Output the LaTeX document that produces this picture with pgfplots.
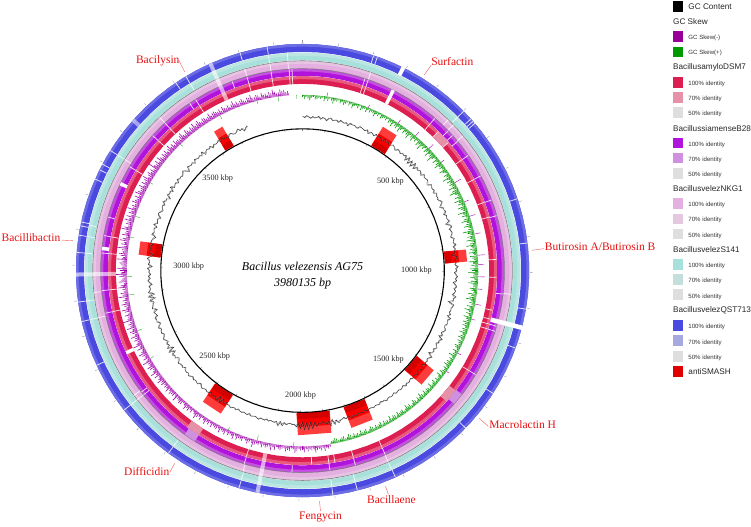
\documentclass[border=0pt]{standalone}
\usepackage{pgfplots}
\usepackage{pgfplotstable}
\usepackage{fontspec}
\pgfplotsset{compat=1.18,table/x index=0,table/y index=0}
\setmainfont{Liberation Serif}
\newfontfamily\arial{Liberation Sans}
\definecolor{rd}{HTML}{DC1E50}\definecolor{rdl}{HTML}{E85A80}\definecolor{rdp}{HTML}{E691A8}
\definecolor{pu}{HTML}{B014DC}\definecolor{pul}{HTML}{C550E0}\definecolor{pup}{HTML}{D090E0}
\definecolor{pk}{HTML}{E4B0E0}\definecolor{pkl}{HTML}{E8C4E4}\definecolor{pkp}{HTML}{E4C8E0}
\definecolor{te}{HTML}{A8E0DC}\definecolor{tel}{HTML}{BCE6E2}\definecolor{tep}{HTML}{C4DEDC}
\definecolor{bl}{HTML}{4A4AE0}\definecolor{bll}{HTML}{6C6CE4}\definecolor{blp}{HTML}{A8A8E0}
\definecolor{gy}{HTML}{DEDEDE}\definecolor{sm}{HTML}{E00000}\definecolor{lab}{HTML}{E81010}
\definecolor{gm}{HTML}{990099}\definecolor{gp}{HTML}{009900}
\definecolor{sm1}{HTML}{FF3C3C}\definecolor{sm2}{HTML}{F80000}\definecolor{sm3}{HTML}{D40000}
\pgfplotstableread{a
0
4
8
12
16
20
24
28
32
36
40
44
48
52
56
60
64
68
72
76
80
84
88
92
96
100
104
108
112
116
120
124
128
132
136
140
144
148
152
156
160
164
168
172
176
180
184
188
192
196
200
204
208
212
216
220
224
228
232
236
240
244
248
252
256
260
264
268
272
276
280
284
288
292
296
300
304
308
312
316
320
324
328
332
336
340
344
348
352
356
360
364
}\ringt
\pgfplotstableread{a
0
9.05
18.09
27.14
36.18
45.23
54.27
63.32
72.36
81.41
90.45
99.5
108.54
117.59
126.63
135.68
144.72
153.77
162.81
171.86
180.9
189.95
198.99
208.04
217.08
226.13
235.17
244.22
253.26
262.31
271.35
280.4
289.44
298.49
307.53
316.58
325.62
334.67
343.71
352.76
}\tickt
\pgfplotstableread{a
351
344
329
326
302
298
296.4
293.8
282.4
281.4
279
274.6
262
257
245.3
232
216.3
196.3
172.3
166
155.8
134
122.8
110
99.8
83
71.5
49.5
48.8
48
45.3
19.3
18.3
}\blG
\pgfplotstableread{a
351
356
329
302
282
279
274.6
262
257
232
216.3
196.3
172.3
166
155.9
45.3
}\teG
\pgfplotstableread{a
351
356
344
317
302
264
257
232
233.5
196.5
155.9
96.5
46
44
50
19
}\pkG
\pgfplotstableread{a
351
356.2
357
344
339.6
328
326
317
312
301
285.4
280
275
264.3
257.8
233
232
196.8
183
172.2
164.8
155.8
121
106
107.5
96.7
74.2
69.5
62
55.2
46.2
48
50.2
41
19
18
}\puG
\pgfplotstableread{a
351
356.2
357
344
328
317
312
301
280
275
264.3
257.8
196.8
177.3
172.2
170.4
164.8
155.8
121
104.5
106
107.5
101.8
92
86.7
74
69.4
62
55.2
48.7
44.3
41
19
18
}\rdG
\pgfplotstableread{a
295.5
276.3
26.7
}\puT
\pgfplotstableread{a
245
26.7
}\rdT
\pgfplotstableread{a
26.4
}\blT
\pgfplotstableread{a
104.6
}\bandT
\pgfplotstableread{a
336
269
191.5
}\paleT
\pgfplotstableread{a
311.6
}\paleB
\pgfplotstableread{a
214.3
130.2
46.5
}\patchR
\pgfplotstableread{a
214
129.6
}\patchP
\pgfplotstableread{p q
29 35
82.5 87
127 134
154.5 163
169.5 182
209.5 217.5
275.4 280.4
327.4 331
}\smboxes
\pgfplotstableread{a d
8 4
22 3
33 4
40 5
46 6
52 4
60 7
67 5
72 6
78 6
85 7
88 6
92 7
96 5
101 6
106 4
118 4
125 3
}\purpleOut
\pgfplotstableread{a d
183 4
195 5
205 3
240 4
250 5
262 6
268 5
281 4
288 5
300 3
316 3
332 4
345 3
352 5
358 4
}\greenIn
\pgfplotstableread{d
3
5
2
4
6
3
2
5
4
3
4
2
6
3
5
2
4
7
3
4
2
5
3
6
4
2
5
3
7
4
3
5
2
6
4
3
6
2
5
3
4
7
3
5
2
6
4
3
5
2
6
4
8
3
5
7
4
9
5
3
7
4
6
9
3
5
8
4
6
3
8
5
10
4
6
3
7
5
9
4
6
11
5
3
8
4
7
10
5
6
4
9
6
3
7
5
11
4
8
5
7
5
10
4
8
12
6
4
9
5
11
6
8
4
10
7
5
12
6
9
4
8
11
5
7
10
4
6
13
8
5
9
6
11
4
7
12
5
8
6
10
4
9
7
5
11
6
8
4
10
7
12
5
6
9
4
8
11
6
5
9
7
4
10
6
8
12
5
7
4
9
6
11
5
8
4
10
7
5
9
6
8
4
7
5
9
4
6
8
3
7
5
4
8
6
3
7
4
5
9
3
6
4
7
5
8
3
6
4
5
7
3
8
5
4
6
3
7
5
4
8
3
5
6
4
7
3
5
8
4
6
3
5
7
4
3
6
5
8
4
3
6
5
4
7
3
5
6
4
8
3
5
4
6
3
7
5
4
6
3
5
7
4
3
6
5
4
7
3
5
4
6
3
5
7
4
3
6
5
4
3
5
6
4
3
}\greenT
\pgfplotstableread{d
3
5
4
7
3
6
4
5
8
3
5
4
6
3
7
4
5
3
6
8
4
3
6
5
7
3
4
6
5
3
7
4
8
3
5
6
4
7
3
5
4
6
9
3
5
7
4
3
6
5
4
7
3
8
5
4
6
3
7
5
4
8
3
6
5
4
7
3
6
4
8
5
3
7
4
6
9
5
3
6
4
7
5
8
4
3
6
7
5
4
9
3
6
5
7
4
8
5
6
4
7
5
9
6
4
8
5
10
6
4
7
9
5
6
11
4
8
5
7
10
6
4
9
5
12
7
5
8
6
10
4
7
9
5
11
6
8
5
13
7
6
9
4
8
11
5
7
10
6
8
5
12
7
9
5
6
11
8
4
10
7
5
9
13
6
8
11
5
7
9
6
12
5
8
10
6
7
14
5
9
6
11
8
5
10
7
6
12
9
5
8
7
11
6
10
5
9
7
12
6
8
5
10
7
6
9
5
11
8
6
7
10
5
9
6
8
11
5
7
9
6
8
5
14
7
6
9
5
10
7
5
8
6
9
5
7
10
6
8
5
9
6
7
5
8
10
6
5
9
7
5
8
6
10
5
7
9
6
5
8
7
5
6
9
5
7
8
6
5
7
4
8
6
5
7
4
6
9
5
7
4
6
8
5
4
7
6
9
4
5
7
6
4
8
5
6
4
7
5
9
6
4
5
8
6
7
4
5
}\purpleT
\pgfplotstableread{d
1
-1
2
0
-2
1
-1
0
2
-2
1
0
-3
1
2
-1
0
1
-2
2
0
-1
1
-3
2
0
1
-1
-2
2
1
0
-1
2
-3
1
0
-2
2
-1
1
0
-3
2
-1
1
-2
0
2
-1
-3
1
0
-2
1
-1
2
-5
3
-6
2
-6
3
-5
1
-2
1
0
-3
2
-1
0
1
-2
-4
2
0
-1
1
-3
2
-1
0
-2
1
3
-1
-4
1
0
2
-3
1
-1
0
2
-5
1
3
-2
0
1
-1
-3
2
0
-1
3
-2
1
-1
0
-6
2
1
-1
0
-2
3
-1
1
-3
0
2
-1
1
-4
0
2
-2
1
0
-3
3
-1
0
-7
2
1
-1
0
-2
1
-3
3
-1
0
1
-2
-1
2
0
-3
1
-4
3
-1
1
-3
0
2
-2
1
-1
-5
3
0
-2
1
-1
2
-3
0
1
-1
-2
2
0
-1
1
-2
0
1
-1
2
-2
0
1
-1
0
1
-2
0
1
-1
0
2
-1
0
-2
1
0
-1
1
0
-1
0
1
-2
1
0
-1
0
1
-1
2
0
-1
1
-2
0
1
4
-1
5
-3
6
-1
2
0
-2
1
0
4
-2
7
-3
8
-2
8
-3
6
-1
4
0
1
-1
0
2
-1
4
-2
5
-1
1
0
-1
1
-2
1
0
-1
2
0
-1
0
1
-2
1
0
-1
1
0
-2
1
-1
0
2
-1
0
-2
1
-5
4
-5
3
0
-1
1
-2
0
1
-1
0
2
-1
-3
1
0
-1
1
-2
0
2
-1
1
0
-3
1
-1
0
2
-2
-4
1
-1
2
-5
4
-6
3
-2
1
-3
0
2
-1
-3
1
0
-2
2
-1
-4
1
0
2
-3
-1
1
-5
2
0
-1
-3
3
-6
4
-6
3
0
-1
1
-4
0
2
-2
1
-3
0
-1
2
-5
1
-1
0
3
-2
-7
1
0
-1
2
-3
1
0
-2
-5
2
-1
0
1
-3
3
-2
-1
0
-4
1
2
-1
-3
0
1
-2
3
-1
0
-5
2
-1
1
-3
4
-2
0
1
-3
2
-1
0
-2
1
3
-1
-5
2
0
-1
1
-3
2
0
-1
1
-2
3
-4
0
1
-1
2
-3
1
-1
0
2
-2
3
-1
0
-3
1
2
-1
-2
0
3
-1
1
-4
0
2
}\gct
\newcommand{\rng}[3]{\addplot[forget plot,draw=#3,line width=#2] table[x expr={303+#1*sin(\thisrow{a})},y expr={271-#1*cos(\thisrow{a})}] {\ringt};}
\newcommand{\gaps}[6][1]{\addplot[forget plot,draw=#6,draw opacity=#1,line width=#5,quiver={u={(#4-#3)*sin(\thisrow{a})},v={-(#4-#3)*cos(\thisrow{a})}}] table[x expr={303+#3*sin(\thisrow{a})},y expr={271-#3*cos(\thisrow{a})}] {#2};}
\newcommand{\bx}[3]{\addplot[forget plot,draw=#3,line width=#2,quiver={u={#1*(sin(\thisrow{q})-sin(\thisrow{p}))},v={-#1*(cos(\thisrow{q})-cos(\thisrow{p}))}}] table[x expr={303+#1*sin(\thisrow{p})},y expr={271-#1*cos(\thisrow{p})}] {\smboxes};}
\newcommand{\sw}[2]{\addplot[forget plot,only marks,draw=#2,mark=square*,mark size=4.9pt,mark options={fill=#2,draw=#2,line width=0pt}] coordinates {(679,#1)};}
\newcommand{\tx}[2]{\node[anchor=west,inner sep=0pt,text=black!85] at (axis cs:674,#1) {\arial\fontsize{8.2}{9}\selectfont #2};}
\newcommand{\txs}[2]{\node[anchor=west,inner sep=0pt,text=black!80] at (axis cs:689.3,#1) {\arial\fontsize{6.1}{7}\selectfont #2};}
\newcommand{\lb}[3]{\node[text=lab,inner sep=0pt] at (axis cs:#1,#2) {\fontsize{11.5}{13}\selectfont #3};}
\newcommand{\kb}[3]{\node[text=black!85,inner sep=0pt] at (axis cs:#1,#2) {\fontsize{8.2}{10}\selectfont #3};}
\newcommand{\lead}[4]{\addplot[forget plot,draw=lab!70,line width=0.4pt] coordinates {(#1,#2)(#3,#4)};}
\begin{document}
\begin{tikzpicture}
\begin{axis}[scale only axis,width=751pt,height=527pt,xmin=0,xmax=751,ymin=0,ymax=527,y dir=reverse,hide axis,clip=false]
\path (axis cs:0,0) rectangle (axis cs:751,527);
% antiSMASH
\bx{154}{22pt}{sm1}
\bx{150}{14pt}{sm2}
\bx{146}{6pt}{sm3}
% rings
\rng{223}{8pt}{bl}\rng{225.7}{2.6pt}{bll}
\rng{214.5}{7.4pt}{te}\rng{216.7}{3pt}{tel}
\rng{206.2}{7.6pt}{pk}\rng{208.6}{2.8pt}{pkl}
\rng{198.7}{7.2pt}{pu}\rng{200.8}{2.6pt}{pul}
\rng{190.8}{7.6pt}{rd}\rng{193.2}{2.8pt}{rdl}
\rng{210.2}{0.6pt}{black!50}
\rng{202.3}{0.6pt}{black!50}
% pale patches of lower identity
\gaps{\patchR}{187}{194.6}{14pt}{rdp}
\gaps{\patchP}{194.8}{202}{12pt}{pup}
\gaps[0.6]{\paleT}{187}{227}{4pt}{white}
\gaps[0.5]{\paleB}{219}{227}{4pt}{white}
% white gaps
\gaps[0.85]{\blG}{219}{227}{0.75pt}{white}
\gaps[0.85]{\teG}{211}{218}{0.75pt}{white}
\gaps[0.85]{\pkG}{202.6}{210}{0.75pt}{white}
\gaps[0.85]{\puG}{195}{202}{0.75pt}{white}
\gaps[0.85]{\rdG}{187}{194.5}{0.75pt}{white}
\gaps{\blT}{218.5}{227.5}{4pt}{white}
\gaps{\puT}{194.8}{202.2}{3.5pt}{white}
\gaps{\rdT}{186.8}{194.8}{3.5pt}{white}
\gaps{\bandT}{195}{227.5}{4.5pt}{white}
% outer and inner ticks, circle
\gaps{\tickt}{228}{230.5}{0.4pt}{black!40}
\gaps{\tickt}{140}{142}{0.4pt}{black!45}
\rng{142}{1.1pt}{black}
% GC skew
\addplot[forget plot,draw=gp!80!white,line width=0.6pt,quiver={u={-0.45*\thisrow{d}*sin(0.3+\coordindex*0.6)},v={0.45*\thisrow{d}*cos(0.3+\coordindex*0.6)}}] table[x expr={303+176*sin(0.3+\coordindex*0.6)},y expr={271-176*cos(0.3+\coordindex*0.6)}] {\greenT};
\addplot[forget plot,draw=gm!70!pu!80!white,line width=0.6pt,quiver={u={0.45*\thisrow{d}*sin(171.3+\coordindex*0.6)},v={-0.45*\thisrow{d}*cos(171.3+\coordindex*0.6)}}] table[x expr={303+176*sin(171.3+\coordindex*0.6)},y expr={271-176*cos(171.3+\coordindex*0.6)}] {\purpleT};
\addplot[forget plot,draw=gp,line width=0.6pt,quiver={u={-0.85*\thisrow{d}*sin(\coordindex*0.6)},v={0.85*\thisrow{d}*cos(\coordindex*0.6)}}] table[x expr={303+176*sin(\coordindex*0.6)},y expr={271-176*cos(\coordindex*0.6)}] {\greenT};
\addplot[forget plot,draw=gm!70!pu,line width=0.6pt,quiver={u={0.85*\thisrow{d}*sin(171+\coordindex*0.6)},v={-0.85*\thisrow{d}*cos(171+\coordindex*0.6)}}] table[x expr={303+176*sin(171+\coordindex*0.6)},y expr={271-176*cos(171+\coordindex*0.6)}] {\purpleT};
\addplot[forget plot,draw=gm!70!pu,line width=0.4pt,quiver={u={\thisrow{d}*sin(\thisrow{a})},v={-\thisrow{d}*cos(\thisrow{a})}}] table[x expr={303+176*sin(\thisrow{a})},y expr={271-176*cos(\thisrow{a})}] {\purpleOut};
\addplot[forget plot,draw=gp!80!white,line width=0.4pt,quiver={u={-\thisrow{d}*sin(\thisrow{a})},v={\thisrow{d}*cos(\thisrow{a})}}] table[x expr={303+176*sin(\thisrow{a})},y expr={271-176*cos(\thisrow{a})}] {\greenIn};
% GC content
\addplot[forget plot,draw=black!55,line width=0.3pt] table[x expr={303+(154+0.5*\thisrow{d})*sin(0.37+\coordindex*0.75)},y expr={271-(154+0.5*\thisrow{d})*cos(0.37+\coordindex*0.75)}] {\gct};
\addplot[forget plot,draw=black!85,line width=0.35pt] table[x expr={303+(154+0.7*\thisrow{d})*sin(\coordindex*0.75)},y expr={271-(154+0.7*\thisrow{d})*cos(\coordindex*0.75)}] {\gct};
% label leaders
\lead{179}{60}{185}{72}
\lead{432}{65}{425}{75}
\lead{533}{250.7}{545}{249}
\lead{480}{419}{489}{427}
\lead{386}{487}{389}{495}
\lead{320}{502}{321}{512}
\lead{170}{473}{175}{464}
\lead{62}{240.5}{73}{241}
% labels
\lb{158}{61}{Bacilysin}
\lb{453}{62}{Surfactin}
\lb{601}{247}{Butirosin A/Butirosin B}
\lb{523.5}{425}{Macrolactin H}
\lb{392}{500}{Bacillaene}
\lb{321}{518}{Fengycin}
\lb{147}{472}{Difficidin}
\lb{31}{238}{Bacillibactin}
\kb{391}{182}{500 kbp}
\kb{417}{271}{1000 kbp}
\kb{389}{360}{1500 kbp}
\kb{301}{396}{2000 kbp}
\kb{215}{357}{2500 kbp}
\kb{189}{267}{3000 kbp}
\kb{218}{179}{3500 kbp}
\node[inner sep=0pt] at (axis cs:303,267) {\fontsize{12}{14}\selectfont\itshape Bacillus velezensis AG75};
\node[inner sep=0pt] at (axis cs:303,284) {\fontsize{12}{14}\selectfont\itshape 3980135 bp};
% legend
\sw{6.3}{black}
\node[anchor=west,inner sep=0pt,text=black!85] at (axis cs:689.3,6.7) {\arial\fontsize{8.2}{9}\selectfont GC Content};
\tx{22}{GC Skew}
\sw{36.7}{gm}\txs{38}{GC Skew(-)}
\sw{52}{gp}\txs{53}{GC Skew(+)}
\tx{67}{BacillusamyloDSM7}
\sw{82.3}{rd}\txs{83.7}{100\% identity}
\sw{97.5}{rdp}\txs{99}{70\% identity}
\sw{112.7}{gy}\txs{114.3}{50\% identity}
\tx{128.3}{BacillussiamenseB28}
\sw{143.3}{pu}\txs{144.7}{100\% identity}
\sw{158.3}{pup}\txs{160}{70\% identity}
\sw{174}{gy}\txs{175.3}{50\% identity}
\tx{189}{BacillusvelezNKG1}
\sw{204}{pk}\txs{205.3}{100\% identity}
\sw{219.3}{pkp}\txs{220.7}{70\% identity}
\sw{234.3}{gy}\txs{236}{50\% identity}
\tx{250}{BacillusvelezS141}
\sw{265}{te}\txs{266.7}{100\% identity}
\sw{280}{tep}\txs{281.7}{70\% identity}
\sw{295.3}{gy}\txs{297}{50\% identity}
\tx{311}{BacillusvelezQST713}
\sw{326}{bl}\txs{327.7}{100\% identity}
\sw{341.3}{blp}\txs{343}{70\% identity}
\sw{356.7}{gy}\txs{358}{50\% identity}
\sw{371.7}{sm}
\node[anchor=west,inner sep=0pt,text=black!85] at (axis cs:689.3,372) {\arial\fontsize{8.2}{9}\selectfont antiSMASH};
\end{axis}
\end{tikzpicture}
\end{document}
